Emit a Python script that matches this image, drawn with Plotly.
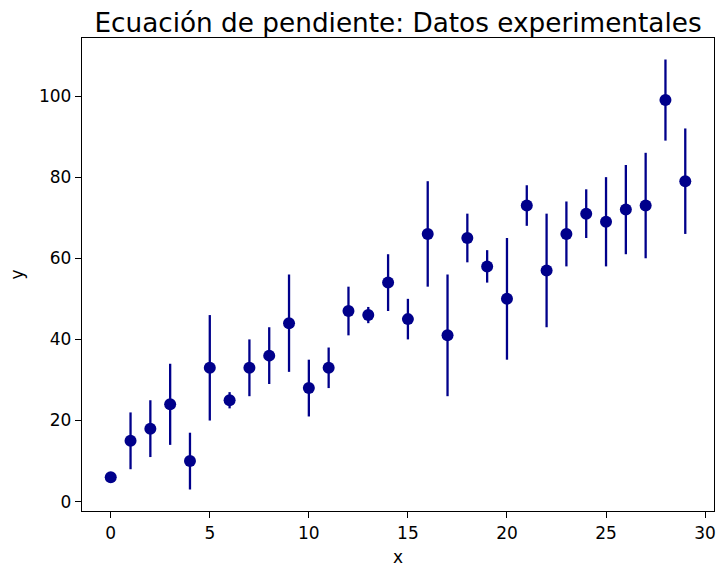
import plotly.graph_objects as go

# Experimental measurements with symmetric uncertainty
x_vals = list(range(30))
y_vals = [6, 15, 18, 24, 10, 33, 25, 33, 36, 44, 28, 33, 47, 46, 54,
          45, 66, 41, 65, 58, 50, 73, 57, 66, 71, 69, 72, 73, 99, 79]
y_err = [0, 7, 7, 10, 7, 13, 2, 7, 7, 12, 7, 5, 6, 2, 7,
         5, 13, 15, 6, 4, 15, 5, 14, 8, 6, 11, 11, 13, 10, 13]

x_ticks = [0, 5, 10, 15, 20, 25, 30]
y_ticks = [0, 20, 40, 60, 80, 100]

color = "#00008B"
font_family = "DejaVu Sans"

fig = go.Figure(
    go.Scatter(
        x=x_vals,
        y=y_vals,
        mode="markers",
        marker=dict(color=color, size=12),
        error_y=dict(type="data", array=y_err, visible=True,
                     color=color, thickness=2.3, width=0),
        showlegend=False,
    )
)

axis_common = dict(
    showline=True, mirror=True, linecolor="black", linewidth=1.3,
    showgrid=False, zeroline=False,
    ticks="outside", ticklen=6, tickwidth=1.3, tickcolor="black",
    tickfont=dict(family=font_family, size=17, color="black"),
)

fig.update_layout(
    width=718,
    height=569,
    margin=dict(l=82, r=2, t=38, b=58),
    plot_bgcolor="white",
    paper_bgcolor="white",
    font=dict(family=font_family, color="black"),
    title=dict(
        text="Ecuación de pendiente: Datos experimentales",
        font=dict(family=font_family, size=26.3, color="black"),
        x=0.5, xref="paper", xanchor="center",
        y=1, yref="paper", yanchor="bottom",
        pad=dict(b=6),
    ),
    xaxis=dict(
        range=[-1.45, 30.45], tickvals=x_ticks,
        title=dict(text="x", font=dict(family=font_family, size=17, color="black"),
                   standoff=9),
        **axis_common,
    ),
    yaxis=dict(
        range=[-2.3, 114.3], tickvals=y_ticks,
        title=dict(text="y", font=dict(family=font_family, size=17, color="black"),
                   standoff=11),
        **axis_common,
    ),
)

fig.write_html("out.html")
